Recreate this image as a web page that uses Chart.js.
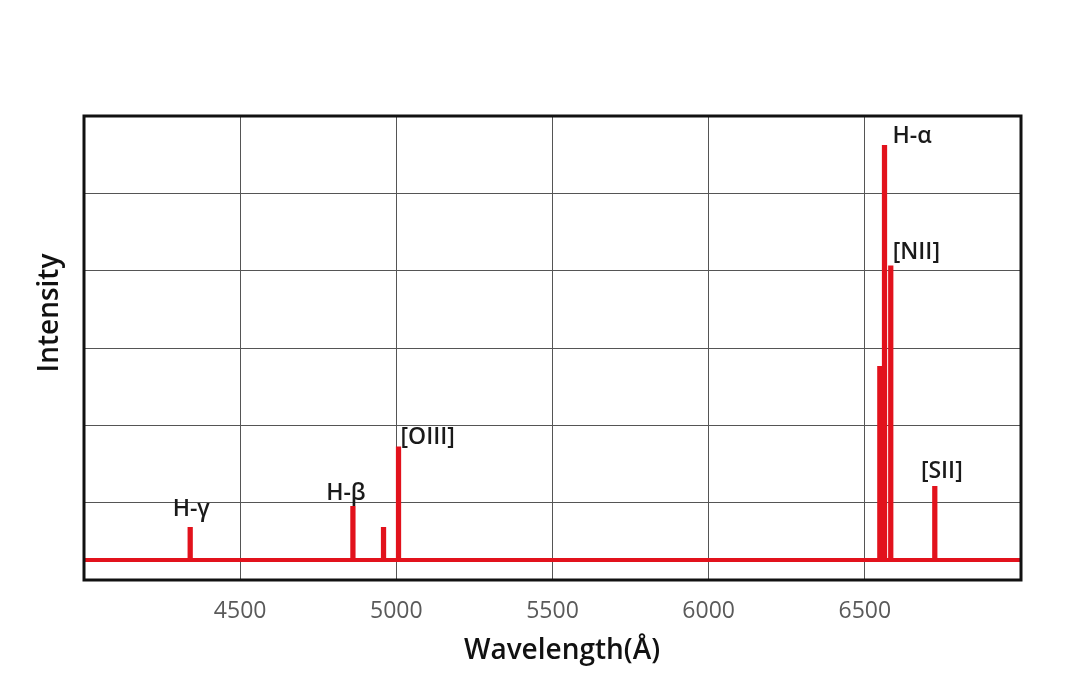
<!DOCTYPE html>
<html>
<head>
<meta charset="utf-8">
<script src="https://cdn.jsdelivr.net/npm/chart.js@4/dist/chart.umd.min.js"></script>
<style>
html,body{margin:0;padding:0;background:#fff;}
#wrap{width:1080px;height:687px;position:relative;}
</style>
</head>
<body>
<div id="wrap"><canvas id="c" width="1080" height="687"></canvas></div>
<script>
// Data
const lineNames = ["H-γ", "H-β", "", "[OIII]", "", "H-α", "[NII]", "[SII]"];
const lineWavelengths = [4340, 4861, 4959, 5007, 6548, 6563, 6583, 6724];
const lineIntensities = [0.66, 0.93, 0.66, 1.70, 2.74, 5.60, 4.04, 1.19];
const continuumLevel = 0.26;
const xRange = [4000, 7000];
const xTickValues = [4500, 5000, 5500, 6000, 6500];
const lineHalfWidth = 2; // Å

// build spectrum points from arrays
const pts = [{x: xRange[0], y: continuumLevel}];
lineWavelengths.forEach((w, i) => {
  pts.push({x: w - lineHalfWidth, y: continuumLevel});
  pts.push({x: w - lineHalfWidth, y: lineIntensities[i]});
  pts.push({x: w + lineHalfWidth, y: lineIntensities[i]});
  pts.push({x: w + lineHalfWidth, y: continuumLevel});
});
pts.push({x: xRange[1], y: continuumLevel});

const FONT = "'Open Sans', 'Noto Sans', sans-serif";

const labelPlugin = {
  id: 'labels',
  afterDatasetsDraw(chart) {
    const ctx = chart.ctx;
    const xs = chart.scales.x, ys = chart.scales.y;
    const ca = chart.chartArea;
    ctx.save();
    // frame
    ctx.strokeStyle = '#111';
    ctx.lineWidth = 3;
    ctx.strokeRect(ca.left, ca.top, ca.right - ca.left, ca.bottom - ca.top);
    // line labels
    ctx.fillStyle = '#1a1a1a';
    ctx.font = "600 23px " + FONT;
    ctx.textBaseline = 'middle';
    const offs = {
      "H-γ": [1, -20, 'center'],
      "H-β": [-7, -15, 'center'],
      "[OIII]": [2, -11, 'left'],
      "H-α": [8, -10, 'left'],
      "[NII]": [2, -15, 'left'],
      "[SII]": [7, -17, 'center']
    };
    lineNames.forEach((n, i) => {
      if (!n) return;
      const px = xs.getPixelForValue(lineWavelengths[i]);
      const py = ys.getPixelForValue(lineIntensities[i]);
      const o = offs[n];
      ctx.textAlign = o[2];
      ctx.fillText(n, px + o[0], py + o[1]);
    });
    // axis titles
    ctx.fillStyle = '#111';
    ctx.font = "600 28px " + FONT;
    ctx.textAlign = 'center';
    ctx.fillText('Wavelength(Å)', 562, 651);
    ctx.translate(50, 313);
    ctx.rotate(-Math.PI / 2);
    ctx.fillText('Intensity', 0, 0);
    ctx.restore();
  }
};

new Chart(document.getElementById('c'), {
  type: 'scatter',
  data: {
    datasets: [{
      data: pts,
      showLine: true,
      borderColor: 'rgb(226,18,28)',
      borderWidth: 4,
      pointRadius: 0,
      borderJoinStyle: 'miter',
      borderCapStyle: 'butt',
      tension: 0
    }]
  },
  options: {
    responsive: false,
    animation: false,
    layout: {padding: {top: 116, right: 59, left: 0, bottom: 0}},
    plugins: {legend: {display: false}, tooltip: {enabled: false}},
    scales: {
      x: {
        type: 'linear',
        min: xRange[0], max: xRange[1],
        afterBuildTicks(scale) { scale.ticks = xTickValues.map(v => ({value: v})); },
        afterFit(scale) { scale.height = 107; },
        grid: {color: '#555', lineWidth: 1, drawTicks: false},
        border: {display: false},
        ticks: {color: '#5a5a5a', font: {size: 23, family: FONT}, padding: 18, maxRotation: 0,
                callback: v => String(v)}
      },
      y: {
        min: 0, max: 6,
        ticks: {stepSize: 1, display: false},
        afterFit(scale) { scale.width = 84; },
        grid: {color: '#555', lineWidth: 1, drawTicks: false},
        border: {display: false}
      }
    }
  },
  plugins: [labelPlugin]
});
</script>
</body>
</html>
